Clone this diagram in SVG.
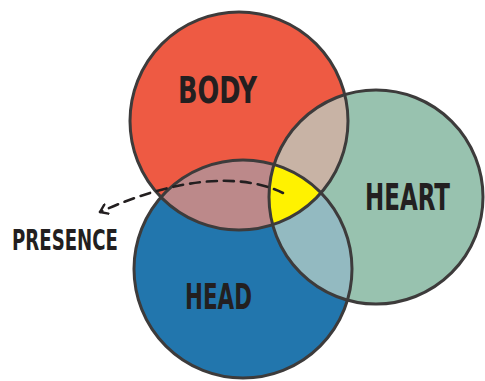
<svg xmlns="http://www.w3.org/2000/svg" width="485" height="381" viewBox="0 0 485 381">
<style>
.ol{fill:none;stroke:#3d3b3b;stroke-width:3}
.lbl{font-family:"Liberation Sans Narrow","DejaVu Sans Condensed","Liberation Sans",sans-serif;font-weight:bold;fill:#231f20}
.dash{fill:none;stroke:#231f20;stroke-width:2.6;stroke-dasharray:10 7;stroke-linecap:round}
</style>
<defs>
<clipPath id="cBody"><circle cx="239" cy="121" r="109"/></clipPath>
<clipPath id="cHead"><circle cx="243" cy="269" r="109"/></clipPath>
<clipPath id="cHeart"><circle cx="376" cy="197" r="107"/></clipPath>
<marker id="arr" viewBox="0 0 12 12" refX="10" refY="6" markerWidth="12" markerHeight="12" markerUnits="userSpaceOnUse" orient="auto">
<path d="M3,1 L10,6 L3,11" fill="none" stroke="#231f20" stroke-width="2.4" stroke-linecap="round" stroke-linejoin="round"/>
</marker>
</defs>
<rect width="485" height="381" fill="#ffffff"/>
<g id="body">
<circle cx="239" cy="121" r="109" fill="#ee5a43"/>
</g>
<g id="heart">
<circle cx="376" cy="197" r="107" fill="#98c2af"/>
</g>
<g id="head">
<circle cx="243" cy="269" r="109" fill="#2276ad"/>
</g>
<g id="overlaps">
<circle id="body-heart" cx="376" cy="197" r="107" fill="#c8b3a5" clip-path="url(#cBody)"/>
<circle id="body-head" cx="243" cy="269" r="109" fill="#bc898a" clip-path="url(#cBody)"/>
<circle id="head-heart" cx="376" cy="197" r="107" fill="#93bac1" clip-path="url(#cHead)"/>
<g id="presence-core" clip-path="url(#cHead)">
<circle cx="376" cy="197" r="107" fill="#fff200" clip-path="url(#cBody)"/>
</g>
</g>
<g id="outlines">
<circle class="ol" cx="239" cy="121" r="109"/>
<circle class="ol" cx="376" cy="197" r="107"/>
<circle class="ol" cx="243" cy="269" r="109"/>
</g>
<g id="labels">
<text class="lbl" x="178" y="103" font-size="37" textLength="79" lengthAdjust="spacingAndGlyphs">BODY</text>
<text class="lbl" x="365" y="210" font-size="37" textLength="85" lengthAdjust="spacingAndGlyphs">HEART</text>
<text class="lbl" x="185" y="309" font-size="35" textLength="67" lengthAdjust="spacingAndGlyphs">HEAD</text>
</g>
<g id="presence">
<text class="lbl" x="12" y="250" font-size="29" textLength="106" lengthAdjust="spacingAndGlyphs">PRESENCE</text>
</g>
<g id="connectors">
<path class="dash" d="M283,193 C240,172 175,178 100,212" marker-end="url(#arr)"/>
</g>
</svg>
